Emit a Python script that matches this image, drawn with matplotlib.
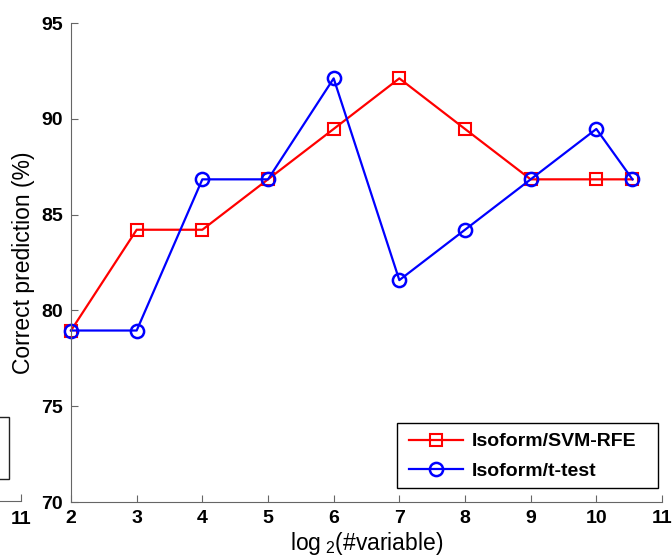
import matplotlib
matplotlib.use("Agg")
from matplotlib import pyplot as plt
from matplotlib.patches import Rectangle

plt.rcParams['font.family'] = ['Liberation Sans', 'DejaVu Sans']
plt.rcParams['mathtext.fontset'] = 'custom'
plt.rcParams['mathtext.rm'] = 'Liberation Sans'
plt.rcParams['mathtext.it'] = 'Liberation Sans:italic'

# log2(#variable); last point is the full set (~1500 variables)
n_vars = [2, 3, 4, 5, 6, 7, 8, 9, 10, 10.55]
svm_rfe = [78.95, 84.21, 84.21, 86.84, 89.47, 92.11, 89.47, 86.84, 86.84, 86.84]
t_test = [78.95, 78.95, 86.84, 86.84, 92.11, 81.58, 84.21, 86.84, 89.47, 86.84]
x_ticks = [2, 3, 4, 5, 6, 7, 8, 9, 10, 11]
y_ticks = [70, 75, 80, 85, 90, 95]

W, H = 672, 558
fig = plt.figure(figsize=(W / 100, H / 100), dpi=100)
spine_col = '#666666'

# neighbouring panel, cut off at the left edge
ax0 = fig.add_axes([(21 - 591) / W, (H - 501) / H, 591 / W, 479 / H])
ax0.set_xlim(2, 11)
ax0.set_ylim(70, 95)
ax0.set_xticks([11])
ax0.set_xticklabels(['11'], fontsize=14, fontweight='bold')
ax0.set_yticks([])
for s in ['top', 'right', 'left']:
    ax0.spines[s].set_visible(False)
ax0.spines['bottom'].set_color(spine_col)
ax0.tick_params(axis='x', direction='in', length=5, color=spine_col, pad=7)
ax0.patch.set_visible(False)
fig.patches.append(Rectangle((-0.05, (H - 479) / H), 0.05 + 9 / W, 62 / H,
                             transform=fig.transFigure, fill=False,
                             edgecolor='#222222', linewidth=1))

ax = fig.add_axes([71 / W, (H - 502) / H, 591 / W, 479 / H])
ax.plot(n_vars, svm_rfe, color='red', linewidth=1.6, marker='s', markersize=9,
        markerfacecolor='none', markeredgewidth=1.5, clip_on=False,
        label='Isoform/SVM-RFE')
ax.plot(n_vars, t_test, color='blue', linewidth=1.6, marker='o', markersize=9.5,
        markerfacecolor='none', markeredgewidth=1.8, clip_on=False,
        label='Isoform/t-test')

ax.set_xlim(2, 11)
ax.set_ylim(70, 95)
ax.set_xticks(x_ticks)
ax.set_yticks(y_ticks)
ax.set_xticklabels([str(t) for t in x_ticks], fontsize=14, fontweight='bold')
ax.set_yticklabels([str(t) for t in y_ticks], fontsize=14, fontweight='bold')
ax.tick_params(direction='in', length=5, color=spine_col, pad=6)
for s in ['top', 'right']:
    ax.spines[s].set_visible(False)
for s in ['left', 'bottom']:
    ax.spines[s].set_color(spine_col)
ax.patch.set_visible(False)

ax.set_xlabel(r'log$_{\ 2}$(#variable)', fontsize=16.5, labelpad=2)
ax.set_ylabel('Correct prediction (%)', fontsize=16.5, labelpad=4)

# legend entries without frame, MATLAB-style box drawn around them
leg = ax.legend(loc='center left', bbox_to_anchor=(409 / W, (H - 456.5) / H),
                bbox_transform=fig.transFigure, frameon=False,
                prop={'size': 14, 'weight': 'bold'}, borderpad=0,
                borderaxespad=0, handlelength=2.8, handletextpad=0.45,
                labelspacing=0.62)
box = Rectangle((397 / W, (H - 488) / H), 261 / W, 65 / H,
                transform=fig.transFigure, facecolor='white',
                edgecolor='black', linewidth=1, zorder=4, clip_on=False)
ax.add_patch(box)

fig.savefig('out.png', dpi=100)
